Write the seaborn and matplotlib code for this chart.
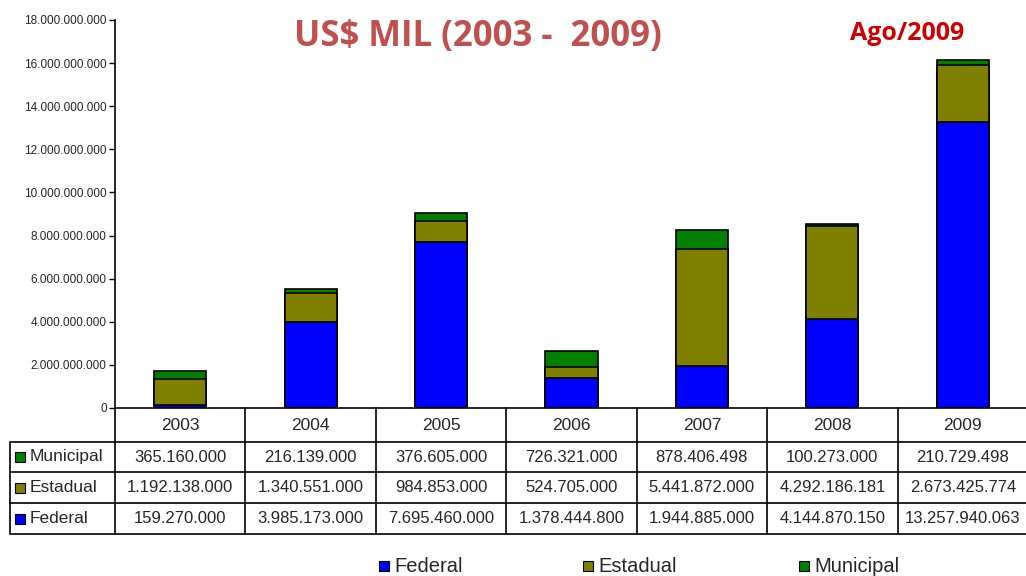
import matplotlib
matplotlib.use('Agg')
import matplotlib.pyplot as plt
import matplotlib.transforms as mtransforms
from matplotlib.lines import Line2D
from matplotlib.patches import Rectangle
from matplotlib.ticker import FuncFormatter
import numpy as np
import pandas as pd
import seaborn as sns

anos = ['2003', '2004', '2005', '2006', '2007', '2008', '2009']
municipal = [365160000, 216139000, 376605000, 726321000, 878406498, 100273000, 210729498]
estadual = [1192138000, 1340551000, 984853000, 524705000, 5441872000, 4292186181, 2673425774]
federal = [159270000, 3985173000, 7695460000, 1378444800, 1944885000, 4144870150, 13257940063]
yticks = np.arange(0, 18e9 + 1, 2e9)

cor_fed = '#0000FF'
cor_est = '#808000'
cor_mun = '#008000'

sns.set_theme(style='white')
plt.rcParams['font.family'] = ['Liberation Sans', 'DejaVu Sans']

def fmt(v):
    return f'{int(v):,}'.replace(',', '.')

df = pd.DataFrame({'ano': anos, 'Federal': federal, 'Estadual': estadual, 'Municipal': municipal})
df['topo_est'] = df['Federal'] + df['Estadual']
df['topo_mun'] = df['topo_est'] + df['Municipal']

W, H = 1026, 576
fig = plt.figure(figsize=(W / 100, H / 100), dpi=100)
ax = fig.add_axes([115 / W, 1 - 408 / H, 913 / W, 388 / H])

# barras empilhadas: desenha os totais acumulados, do maior para o menor
for col, cor in [('topo_mun', cor_mun), ('topo_est', cor_est), ('Federal', cor_fed)]:
    sns.barplot(data=df, x='ano', y=col, color=cor, saturation=1, width=0.4,
                edgecolor='black', linewidth=1.2, ax=ax)

ax.set_xlim(-0.5, 6.5)
ax.set_ylim(0, 18e9)
ax.set_yticks(yticks)
ax.yaxis.set_major_formatter(FuncFormatter(lambda v, p: fmt(v)))
ax.tick_params(axis='y', left=True, length=4, width=1, color='black', labelsize=8.5, pad=2)
ax.tick_params(axis='x', bottom=False, labelbottom=False)
ax.set_xlabel('')
ax.set_ylabel('')
for s in ['top', 'right']:
    ax.spines[s].set_visible(False)
for s in ['left', 'bottom']:
    ax.spines[s].set_color('black')
    ax.spines[s].set_linewidth(1.2)

# titulos
fig.text(478 / W, 1 - 37 / H, 'US$ MIL (2003 -  2009)', fontsize=25, fontweight='bold',
         family='Open Sans', color='#C0504D', ha='center', va='center')
fig.text(907 / W, 1 - 34 / H, 'Ago/2009', fontsize=18, fontweight='bold',
         family='Open Sans', color='#D00000', ha='center', va='center')

# tabela de dados
def fy(p):
    return 1 - p / H

trans = mtransforms.blended_transform_factory(ax.transData, fig.transFigure)
bordas = np.arange(-0.5, 7.0, 1)
for b in bordas:
    ax.add_artist(Line2D([b, b], [fy(408), fy(534)], transform=trans, color='black', lw=1.2, clip_on=False))
for p in [442, 472, 503, 534]:
    fig.add_artist(Line2D([10 / W, 1], [fy(p), fy(p)], color='black', lw=1.2))
fig.add_artist(Line2D([10 / W, 10 / W], [fy(442), fy(534)], color='black', lw=1.2))

for i, a in enumerate(anos):
    ax.text(i, fy(426), a, transform=trans, ha='center', va='center', fontsize=12.5, clip_on=False)

linhas = [('Municipal', municipal, cor_mun, 457), ('Estadual', estadual, cor_est, 487.5),
          ('Federal', federal, cor_fed, 518.5)]
for nome, vals, cor, yp in linhas:
    fig.add_artist(Rectangle((15 / W, fy(yp + 5)), 10 / W, 10 / H, facecolor=cor,
                             edgecolor='black', lw=0.8, transform=fig.transFigure))
    fig.text(30 / W, fy(yp), nome, fontsize=12.5, ha='left', va='center')
    for i, v in enumerate(vals):
        ax.text(i, fy(yp), fmt(v), transform=trans, ha='center', va='center', fontsize=12, clip_on=False)

# legenda
for nome, cor, xp in [('Federal', cor_fed, 379), ('Estadual', cor_est, 583), ('Municipal', cor_mun, 799)]:
    fig.add_artist(Rectangle((xp / W, fy(571)), 10 / W, 10 / H, facecolor=cor,
                             edgecolor='black', lw=0.8, transform=fig.transFigure))
    fig.text((xp + 15) / W, fy(566), nome, fontsize=14.5, ha='left', va='center')

fig.savefig('out.png', dpi=100)
